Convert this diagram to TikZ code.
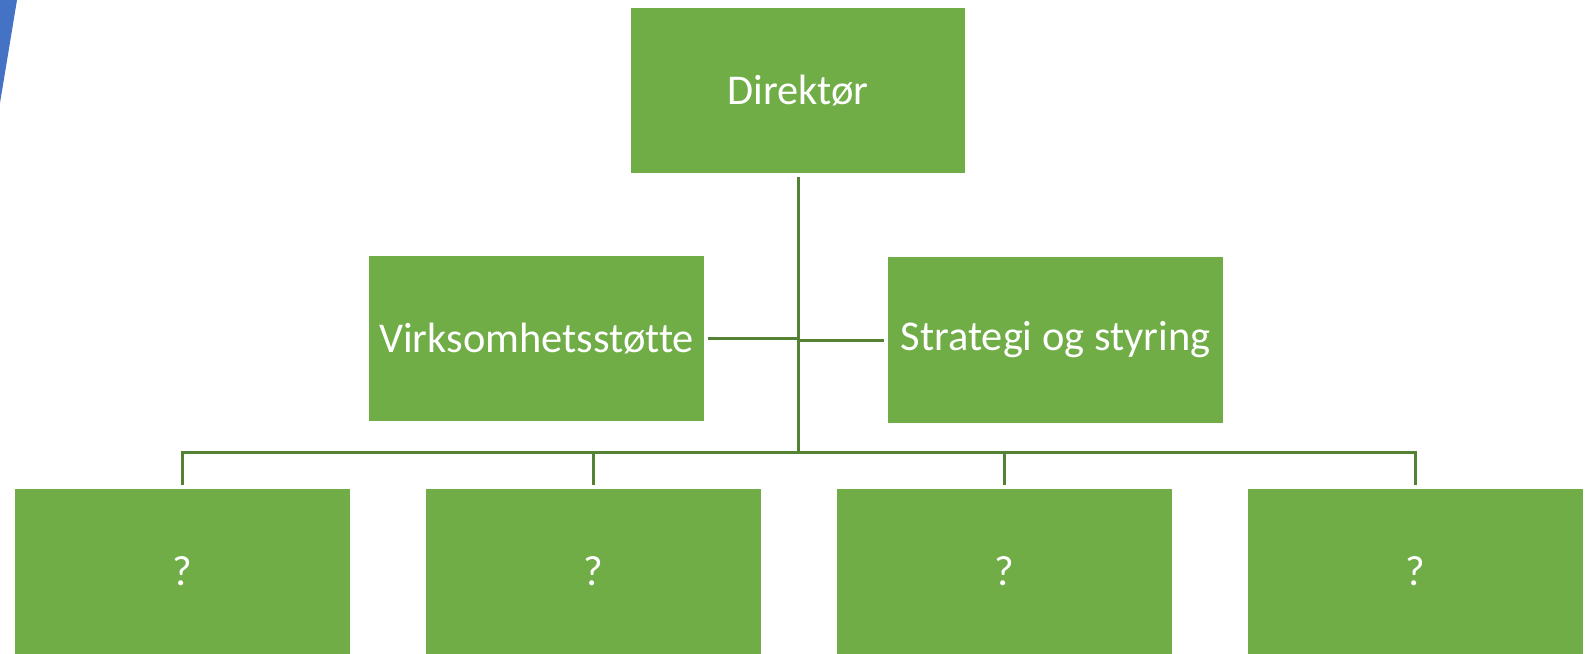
\documentclass[tikz,border=0pt]{standalone}
\usepackage{fontspec}
\setmainfont[Ligatures=NoCommon]{Carlito}
\usepackage{tikz}
\usetikzlibrary{calc}

\definecolor{unitgreen}{HTML}{70AD47}
\definecolor{linkgreen}{HTML}{548235}
\definecolor{edgeblue}{HTML}{4472C4}

\tikzset{
    unit/.style={fill=unitgreen, text=white, inner sep=0pt,
        minimum width=251pt, minimum height=124pt,
        font=\fontsize{31.8}{38}\selectfont},
    link/.style={draw=linkgreen, line width=2.25pt}
}

\begin{document}
\begin{tikzpicture}[x=0.75pt, y=-0.75pt]
            % Frame of the slide
            \useasboundingbox (0,0) rectangle (1590,653);

            \def\w{411} % distance between the lower units
            \def\g{3pt} % gap between line and box

            % Blue edge in the corner
            \fill[edgeblue] (0,0) -- (17,0) -- (0,103) -- cycle;

            % Units
            \node[unit] (dir) at (798, 90.5) {Direktør};
            \node[unit] (virk) at (536.5, 338.5) {Virksomhetsstøtte};
            \node[unit] (strat) at (1055.5, 340) {Strategi og styring};

            \node[unit] (q1) at (182.5, 571.5) {?};
            \node[unit] (q2) at ({182.5 + \w}, 571.5) {?};
            \node[unit] (q3) at ({182.5 + 2*\w}, 571.5) {?};
            \node[unit] (q4) at ({182.5 + 3*\w}, 571.5) {?};

            \coordinate (bus) at (798, 452);

            % Draw the lines
            \draw[link, shorten <=\g] (dir.south) -- (bus);
            \draw[link, shorten <=\g] (virk.east) -- (virk.east -| dir.south);
            \draw[link, shorten >=\g] (strat.west -| dir.south) -- (strat.west);
            \foreach \q in {q1,q2,q3,q4}
                \draw[link, shorten >=\g] (bus) -| (\q.north);

\end{tikzpicture}
\end{document}
